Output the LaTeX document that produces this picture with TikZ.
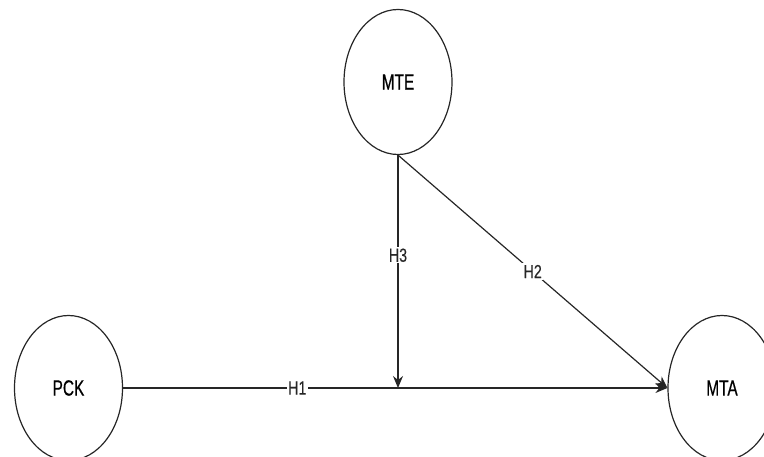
\documentclass[tikz,border=0pt]{standalone}
\usepackage{fontspec}
\setmainfont{Liberation Sans}
\newfontfamily\nodefont[FakeStretch=0.7,FakeBold=0.6]{Liberation Sans}
\newfontfamily\labfont[FakeStretch=0.75,FakeBold=0.3]{Liberation Sans}
\usetikzlibrary{arrows.meta,shapes.geometric}
\begin{document}
\begin{tikzpicture}[x=1pt,y=-1pt,
  construct/.style={draw=black!85, line width=1.2pt, ellipse, minimum width=108pt, minimum height=145pt, inner sep=0pt, font=\nodefont\fontsize{22}{24}\selectfont},
  path/.style={draw=black!85, line width=1.2pt},
  arr/.style={-{Stealth[length=12pt,width=10pt,inset=4pt]}},
  lab/.style={fill=white, inner sep=1.5pt, text=black!85, font=\labfont\fontsize{19}{21}\selectfont}]
\useasboundingbox (0,0) rectangle (764,457);
\node[construct] (mte) at (398,82) {MTE};
\node[construct] (pck) at (68.5,388) {PCK};
\node[construct] (mta) at (722,388) {MTA};
\coordinate (j) at (398,388);
\draw[path,arr] (pck.east) -- node[lab,pos=0.32] {H1} (mta.west);
\draw[path,arr] (mte.south) -- node[lab,pos=0.43] {H3} (j);
\draw[path,arr] (mte.south) -- node[lab,pos=0.5] {H2} (mta.west);
\end{tikzpicture}
\end{document}
